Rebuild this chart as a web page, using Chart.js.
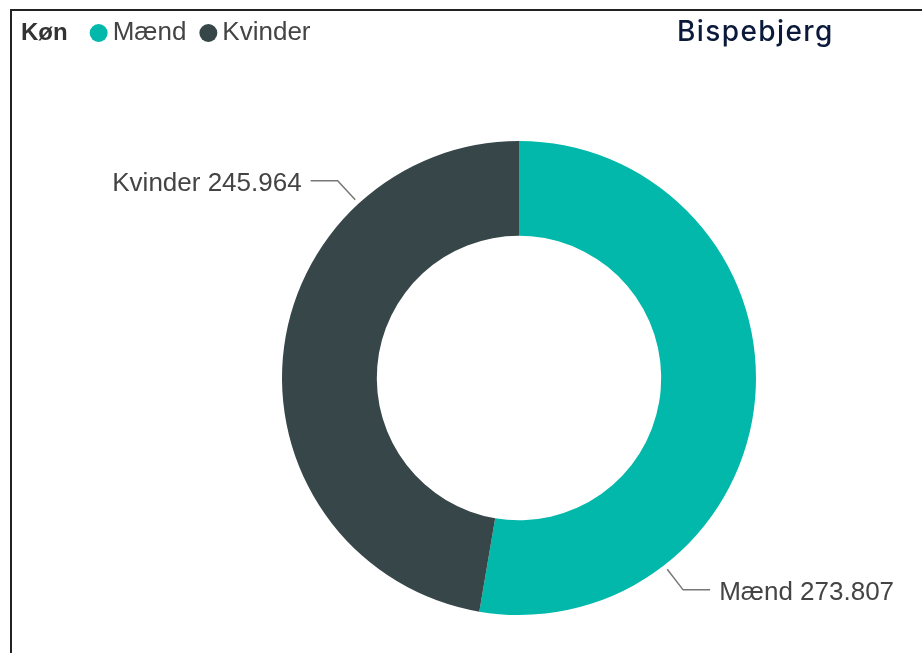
<!DOCTYPE html>
<html>
<head>
<meta charset="utf-8">
<script src="https://cdn.jsdelivr.net/npm/chart.js@4"></script>
<style>
  html, body { margin: 0; padding: 0; background: #fff; }
  #wrap { position: relative; width: 922px; height: 653px; overflow: hidden; }
  #frame { position: absolute; left: 10px; top: 9px; width: 930px; height: 660px;
           border-top: 2px solid #222; border-left: 2px solid #222; }
  canvas { position: absolute; left: 0; top: 0; }
</style>
</head>
<body>
<div id="wrap">
  <div id="frame"></div>
  <canvas id="myChart" width="922" height="653"></canvas>
</div>
<script>
const legendTitle = 'Køn';
const chartTitle = 'Bispebjerg';
const categories = ['Mænd', 'Kvinder'];
const values = [273807, 245964];
const colors = ['#01B8AA', '#374649'];

function fmt(n) {
  return String(n).replace(/\B(?=(\d{3})+(?!\d))/g, '.');
}

// legend + title drawn at the top of the canvas
const headerPlugin = {
  id: 'header',
  afterDraw(chart) {
    const c = chart.ctx;
    c.save();
    c.textBaseline = 'middle';
    let x = 21;
    const y = 33;
    c.font = 'bold 24px "Liberation Sans", Arial, sans-serif';
    c.fillStyle = '#333';
    c.textAlign = 'left';
    c.fillText(legendTitle, x, y);
    x += c.measureText(legendTitle).width + 22;
    c.font = '26px "Liberation Sans", Arial, sans-serif';
    chart.data.labels.forEach((lab, i) => {
      c.fillStyle = chart.data.datasets[0].backgroundColor[i];
      c.beginPath();
      c.arc(x + 9, y, 9, 0, Math.PI * 2);
      c.fill();
      c.fillStyle = '#444';
      c.fillText(lab, x + 23, y);
      x += 23 + c.measureText(lab).width + 13;
    });
    c.font = '500 28px Inter, sans-serif';
    c.letterSpacing = '1.4px';
    c.fillStyle = '#0b1a3a';
    c.fillText(chartTitle, 677, 33);
    c.restore();
  }
};

// data labels with leader lines
const leaderPlugin = {
  id: 'leaders',
  afterDatasetsDraw(chart) {
    const c = chart.ctx;
    const meta = chart.getDatasetMeta(0);
    c.save();
    c.font = '26px "Liberation Sans", Arial, sans-serif';
    c.textBaseline = 'middle';
    meta.data.forEach((arc, i) => {
      const p = arc.getProps(['x', 'y', 'startAngle', 'endAngle', 'outerRadius'], true);
      const a = p.startAngle + 0.75 * (p.endAngle - p.startAngle);
      const cx = Math.cos(a), cy = Math.sin(a);
      const x1 = p.x + (p.outerRadius + 5) * cx, y1 = p.y + (p.outerRadius + 5) * cy;
      const x2 = x1 + 26 * cx, y2 = y1 + 26 * cy;
      const side = cx >= 0 ? 1 : -1;
      const x3 = x2 + side * 27;
      c.strokeStyle = '#777';
      c.lineWidth = 1.5;
      c.beginPath();
      c.moveTo(x1, y1);
      c.lineTo(x2, y2);
      c.lineTo(x3, y2);
      c.stroke();
      c.fillStyle = '#444';
      c.textAlign = side > 0 ? 'left' : 'right';
      c.fillText(chart.data.labels[i] + ' ' + fmt(values[i]), x3 + side * 9, y2 + 3);
    });
    c.restore();
  }
};

const ctx = document.getElementById('myChart').getContext('2d');

const data = {
  labels: categories,
  datasets: [{
    data: values,
    backgroundColor: colors,
    borderWidth: 0,
    hoverBorderWidth: 0,
    hoverOffset: 0
  }]
};

const config = {
  type: 'doughnut',
  data: data,
  options: {
    responsive: false,
    devicePixelRatio: 1,
    animation: false,
    cutout: '60%',
    layout: { padding: { top: 141, bottom: 38, left: 182, right: 66 } },
    plugins: {
      legend: { display: false },
      tooltip: { enabled: false }
    }
  },
  plugins: [leaderPlugin, headerPlugin]
};

const myChart = new Chart(ctx, config);
</script>
</body>
</html>
